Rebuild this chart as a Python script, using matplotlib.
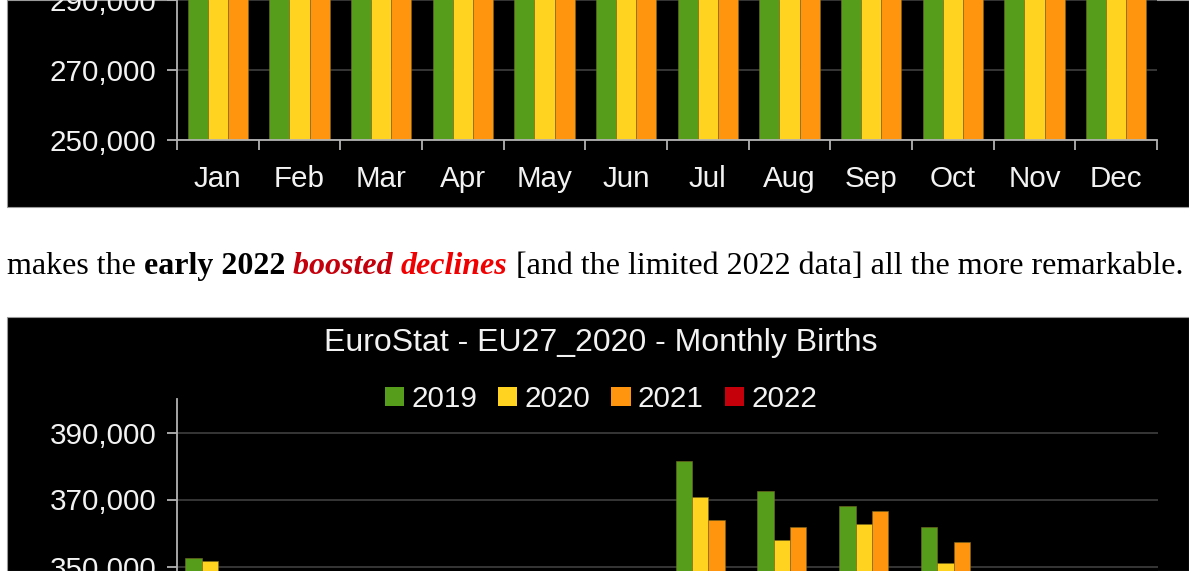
import matplotlib
matplotlib.use("Agg")
import matplotlib.pyplot as plt
from matplotlib.patches import Patch, Rectangle
from matplotlib.ticker import FuncFormatter
import numpy as np

W, H = 1189, 571

months = ["Jan", "Feb", "Mar", "Apr", "May", "Jun",
          "Jul", "Aug", "Sep", "Oct", "Nov", "Dec"]
years = ["2019", "2020", "2021", "2022"]
# monthly births, EU27_2020 (read off / estimated where hidden by the crop)
births_2019 = [352400, 318000, 345000, 331000, 346500, 338000,
               381600, 372500, 368200, 361800, 338000, 338500]
births_2020 = [351500, 325000, 341000, 323000, 336000, 334000,
               370700, 357900, 362800, 351100, 329000, 330000]
births_2021 = [331000, 305000, 343000, 326000, 334000, 337000,
               364000, 361700, 366500, 357200, 341000, 343000]
births_2022 = [318000, 293000, 322000, np.nan, np.nan, np.nan,
               np.nan, np.nan, np.nan, np.nan, np.nan, np.nan]
colors = ["#579d1c", "#ffd320", "#ff950e", "#c5000b"]

TXT = "#f2f2f2"
GRID = "#3a3a3a"
AXC = "#b3b3b3"
FONT = "Liberation Sans"
FS = 21.3


def fx(x):
    return x / W


def fy(y):
    return 1 - y / H


def thousands(v, pos):
    return f"{v:,.0f}"


def style_axes(ax, ylo, yhi, step, show_months=True):
    ax.set_facecolor("black")
    ax.set_xlim(0, 12)
    ax.set_ylim(ylo, yhi)
    ax.set_yticks(np.arange(ylo, yhi + 1, step))
    ax.yaxis.set_major_formatter(FuncFormatter(thousands))
    ax.grid(axis="y", color=GRID, linewidth=1.3)
    ax.set_axisbelow(True)
    for s in ["top", "right"]:
        ax.spines[s].set_visible(False)
    for s in ["left", "bottom"]:
        ax.spines[s].set_color(AXC)
        ax.spines[s].set_linewidth(1.3)
    ax.tick_params(axis="y", colors=AXC, length=7, width=1.3, pad=8,
                   labelsize=FS, labelcolor=TXT)
    ax.set_xticks(np.arange(0, 13))
    ax.set_xticklabels([])
    ax.tick_params(axis="x", which="major", colors=AXC, length=7, width=1.3)
    if show_months:
        ax.set_xticks(np.arange(12) + 0.5, minor=True)
        ax.set_xticklabels(months, minor=True)
        ax.tick_params(axis="x", which="minor", length=0, pad=18,
                       labelsize=FS, labelcolor=TXT)
    for lab in ax.get_yticklabels() + ax.get_xticklabels(minor=True):
        lab.set_family(FONT)


fig = plt.figure(figsize=(W / 100, H / 100), dpi=100)
fig.patch.set_facecolor("white")

# black chart panels as they appear on the page
for y0, y1 in [(0, 207), (317, 571)]:
    fig.add_artist(Rectangle((fx(7), fy(y1)), fx(W - 7), (y1 - y0) / H,
                             transform=fig.transFigure, facecolor="black",
                             edgecolor="#9a9a9a", linewidth=0.8, zorder=0))

x = np.arange(12) + 0.5

# top chart (only its lower part visible)
ax1 = fig.add_axes([fx(177), fy(140), fx(1157 - 177), 210 / H])
style_axes(ax1, 250000, 310000, 20000)
bw = 0.245
for i, vals in enumerate([births_2019, births_2020, births_2021]):
    ax1.bar(x + (i - 1) * bw, vals, width=bw, color=colors[i],
            edgecolor="#7a6a20", linewidth=0.4, zorder=2)

# bottom chart (only its upper part visible)
ax2 = fig.add_axes([fx(177), fy(399 + 110 * 3.35), fx(1158 - 177), 110 * 3.35 / H])
style_axes(ax2, 290000, 400000, 20000, show_months=False)
ax2.set_yticks([350000, 370000, 390000])
for lab in ax2.get_yticklabels():
    lab.set_family(FONT)
bw = 0.2
for i, vals in enumerate([births_2019, births_2020, births_2021, births_2022]):
    ax2.bar(x + (i - 1.5) * bw, vals, width=bw, color=colors[i],
            edgecolor="#7a6a20", linewidth=0.4, zorder=2)

fig.text(fx(601), fy(343), "EuroStat - EU27_2020 - Monthly Births",
         ha="center", va="center", color=TXT, fontsize=23, family=FONT)
handles = [Patch(facecolor=c, edgecolor="none") for c in colors]
fig.legend(handles, years, loc="center", bbox_to_anchor=(fx(601), fy(399)),
           ncol=4, frameon=False, handlelength=0.65, handleheight=0.65,
           handletextpad=0.25, columnspacing=0.7,
           prop={"family": FONT, "size": FS}, labelcolor=TXT)

# page text between the two charts
pieces = [
    ("makes the ", "normal", "normal", "black"),
    ("early 2022", "bold", "normal", "black"),
    (" ", "normal", "normal", "black"),
    ("boosted ", "bold", "italic", "#c4000c"),
    ("declines", "bold", "italic", "#f00000"),
    (" [and the limited 2022 data] all the more remarkable.", "normal", "normal", "black"),
]
fig.canvas.draw()
renderer = fig.canvas.get_renderer()
xpos = fx(7)
for s, wt, st, c in pieces:
    t = fig.text(xpos, fy(274), s, ha="left", va="baseline", color=c,
                 fontsize=23, family="Liberation Serif", weight=wt, style=st)
    bb = t.get_window_extent(renderer)
    xpos = bb.x1 / W

fig.savefig("out.png", dpi=100, facecolor=fig.get_facecolor())
